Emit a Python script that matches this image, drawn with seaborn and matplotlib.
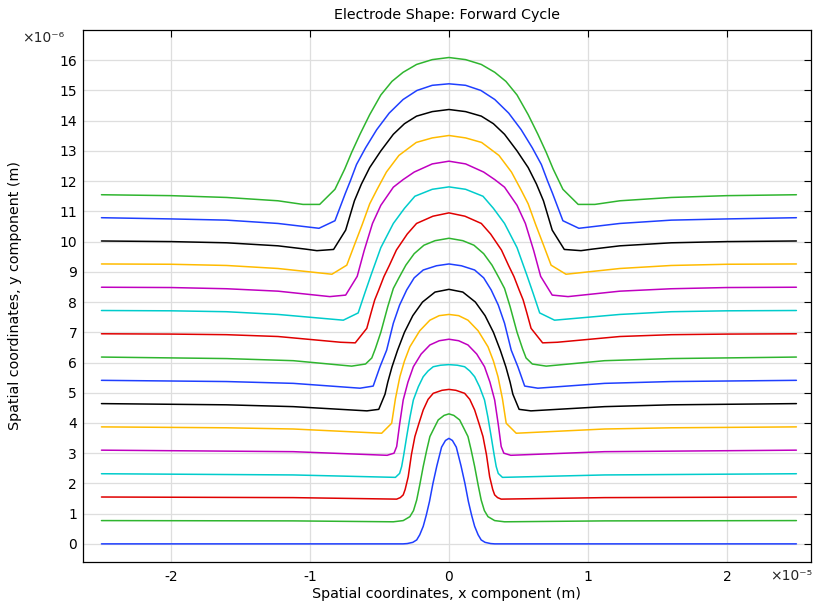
import pandas as pd
import matplotlib
matplotlib.use('Agg')
import matplotlib.pyplot as plt
import seaborn as sns

# right half of each electrode profile, x in um, y in 1e-6 m (mirrored about x=0)
c0_x = [0, 0.25, 0.53, 0.87, 1.15, 1.4, 1.63, 1.85, 2.1, 2.32, 2.6, 3.0, 3.3, 25]
c0_y = [3.49, 3.42, 3.20, 2.58, 2.00, 1.40, 0.95, 0.58, 0.30, 0.13, 0.05, 0.01, 0, 0]
c1_x = [0, 0.35, 0.77, 1.1, 1.37, 1.6, 1.85, 2.1, 2.32, 2.55, 2.81, 3.29, 4.0, 11.2, 25]
c1_y = [4.30, 4.25, 4.10, 3.80, 3.55, 3.10, 2.56, 1.95, 1.45, 1.10, 0.90, 0.77, 0.73, 0.76, 0.77]
c2_x = [0, 0.5, 1.13, 1.5, 1.85, 2.15, 2.45, 2.7, 2.93, 3.15, 3.29, 3.5, 3.76, 11.2, 25]
c2_y = [5.11, 5.08, 4.98, 4.78, 4.43, 4.00, 3.55, 2.95, 2.22, 1.80, 1.62, 1.53, 1.48, 1.53, 1.55]
c3_x = [0, 0.6, 1.13, 1.5, 1.85, 2.2, 2.56, 2.8, 3.04, 3.25, 3.4, 3.55, 3.85, 11.2, 25]
c3_y = [5.93, 5.91, 5.86, 5.72, 5.53, 5.20, 4.76, 4.20, 3.55, 2.95, 2.56, 2.33, 2.20, 2.28, 2.32]
c4_x = [0, 0.7, 1.37, 2.0, 2.56, 2.95, 3.29, 3.55, 3.76, 3.95, 4.45, 11.2, 25]
c4_y = [6.77, 6.72, 6.58, 6.28, 5.86, 5.35, 4.76, 3.95, 3.22, 3.00, 2.93, 3.05, 3.10]
c5_x = [0, 0.7, 1.37, 2.1, 2.81, 3.2, 3.53, 3.85, 4.12, 4.84, 11.2, 16, 25]
c5_y = [7.59, 7.55, 7.40, 7.05, 6.52, 6.05, 5.53, 4.80, 3.99, 3.66, 3.80, 3.84, 3.87]
c6_x = [0, 1.0, 1.9, 2.6, 3.2, 3.7, 4.1, 4.4, 4.6, 5.05, 5.9, 11.2, 16, 25]
c6_y = [8.42, 8.33, 8.00, 7.55, 7.00, 6.40, 5.85, 5.35, 4.95, 4.45, 4.40, 4.54, 4.60, 4.64]
c7_x = [0, 0.9, 1.85, 2.5, 3.04, 3.55, 4.0, 4.48, 4.96, 5.45, 6.4, 11.2, 16, 25]
c7_y = [9.26, 9.20, 9.06, 8.80, 8.40, 7.90, 7.30, 6.41, 5.86, 5.22, 5.15, 5.31, 5.37, 5.41]
c8_x = [0, 1.0, 1.8, 2.5, 3.1, 3.6, 4.0, 4.4, 4.9, 5.3, 5.55, 6.0, 7.0, 11.2, 16, 25]
c8_y = [10.11, 10.03, 9.88, 9.60, 9.22, 8.80, 8.45, 7.85, 7.00, 6.45, 6.15, 5.95, 5.88, 6.06, 6.13, 6.18]
c9_x = [0, 1.15, 2.33, 3.0, 3.78, 4.3, 4.68, 5.05, 5.34, 5.6, 5.91, 6.74, 7.8, 12.3, 16, 20, 25]
c9_y = [10.95, 10.84, 10.60, 10.25, 9.72, 9.20, 8.84, 8.40, 8.07, 7.65, 7.13, 6.65, 6.67, 6.86, 6.92, 6.94, 6.95]
c10_x = [0, 1.2, 2.45, 3.2, 4.0, 4.9, 5.6, 6.05, 6.53, 7.6, 12.3, 16, 20, 25]
c10_y = [11.81, 11.73, 11.50, 11.10, 10.60, 9.80, 8.90, 8.30, 7.64, 7.40, 7.59, 7.68, 7.71, 7.72]
c11_x = [0, 1.2, 2.5, 3.3, 4.0, 4.9, 5.5, 6.1, 6.6, 7.43, 8.57, 12.3, 16, 20, 25]
c11_y = [12.66, 12.57, 12.30, 12.05, 11.80, 11.20, 10.60, 9.70, 8.85, 8.23, 8.18, 8.36, 8.44, 8.48, 8.49]
c12_x = [0, 1.2, 2.35, 3.6, 4.5, 5.2, 5.7, 6.25, 6.75, 7.35, 8.42, 12.3, 16, 20, 25]
c12_y = [13.51, 13.43, 13.28, 12.85, 12.30, 11.70, 11.25, 10.55, 9.95, 9.22, 8.92, 9.11, 9.21, 9.25, 9.26]
c13_x = [0, 1.2, 2.33, 3.2, 4.0, 4.9, 5.7, 6.3, 6.8, 7.43, 8.3, 9.5, 10.3, 12.3, 16, 20, 25]
c13_y = [14.37, 14.30, 14.15, 13.90, 13.55, 13.00, 12.45, 11.90, 11.35, 10.38, 9.74, 9.70, 9.75, 9.86, 9.96, 10.00, 10.02]
c14_x = [0, 1.2, 2.3, 3.3, 4.3, 5.2, 6.0, 6.65, 7.1, 7.45, 8.2, 9.35, 12.3, 16, 20, 25]
c14_y = [15.22, 15.17, 15.00, 14.70, 14.25, 13.70, 13.10, 12.55, 12.00, 11.60, 10.69, 10.44, 10.60, 10.71, 10.75, 10.79]
c15_x = [0, 1.2, 2.33, 3.3, 4.1, 4.9, 5.7, 6.4, 7.0, 7.5, 8.2, 9.3, 10.5, 12.3, 16, 20, 25]
c15_y = [16.09, 16.02, 15.86, 15.60, 15.30, 14.85, 14.20, 13.55, 12.95, 12.40, 11.73, 11.23, 11.23, 11.35, 11.46, 11.52, 11.55]

line_colors = ['#1f3fff', '#2fb52f', '#e00000', '#00cccc', '#c000c0', '#ffbb00', '#000000']
xticks = [-2, -1, 0, 1, 2]
xticklabels = ['-2', '-1', '0', '1', '2']
yticks = list(range(17))

half_x = [c0_x, c1_x, c2_x, c3_x, c4_x, c5_x, c6_x, c7_x, c8_x, c9_x, c10_x, c11_x, c12_x, c13_x, c14_x, c15_x]
half_y = [c0_y, c1_y, c2_y, c3_y, c4_y, c5_y, c6_y, c7_y, c8_y, c9_y, c10_y, c11_y, c12_y, c13_y, c14_y, c15_y]

rows = []
for i, (hx, hy) in enumerate(zip(half_x, half_y)):
    fx = [-v for v in hx[::-1]] + hx[1:]
    fy = hy[::-1] + hy[1:]
    for xv, yv in zip(fx, fy):
        rows.append({'x': xv / 10.0, 'y': yv, 'curve': i})
df = pd.DataFrame(rows)
palette = {i: line_colors[i % 7] for i in range(16)}

sns.set_theme(style="whitegrid")
plt.rcParams['font.family'] = ['DejaVu Sans']

fig = plt.figure(figsize=(8.16, 6.01), dpi=100)
ax = fig.add_axes([82.7 / 816, 1 - 562 / 601, (811 - 82.7) / 816, 532 / 601])
ax.set_facecolor('white')

sns.lineplot(data=df, x='x', y='y', hue='curve', palette=palette, sort=False,
             estimator=None, legend=False, linewidth=1.1, ax=ax)

ax.set_xlim(-2.635, 2.605)
ax.set_ylim(-0.6, 17.0)
ax.set_xticks(xticks)
ax.set_xticklabels(xticklabels)
ax.set_yticks(yticks)
ax.grid(True, color='#dedede', linewidth=0.9)
for s in ax.spines.values():
    s.set_color('black')
    s.set_linewidth(0.9)
ax.tick_params(direction='in', length=5, width=0.8, color='black', top=True, right=True,
               labelsize=10, labelcolor='black')
ax.tick_params(axis='x', pad=6)
ax.tick_params(axis='y', pad=4)

ax.set_title('Electrode Shape: Forward Cycle', fontsize=10.3, pad=8, color='black')
ax.set_xlabel('Spatial coordinates, x component (m)', fontsize=10.3, labelpad=2, color='black')
ax.set_ylabel('Spatial coordinates, y component (m)', fontsize=10.3, color='black')
ax.yaxis.set_label_coords(-0.083, 0.5)

fig.text(22 / 816, 1 - 42 / 601, '×10⁻⁶', fontsize=10, ha='left', va='baseline')
fig.text(812 / 816, 1 - 580 / 601, '×10⁻⁵', fontsize=10, ha='right', va='baseline')

fig.savefig('out.png', dpi=100)
